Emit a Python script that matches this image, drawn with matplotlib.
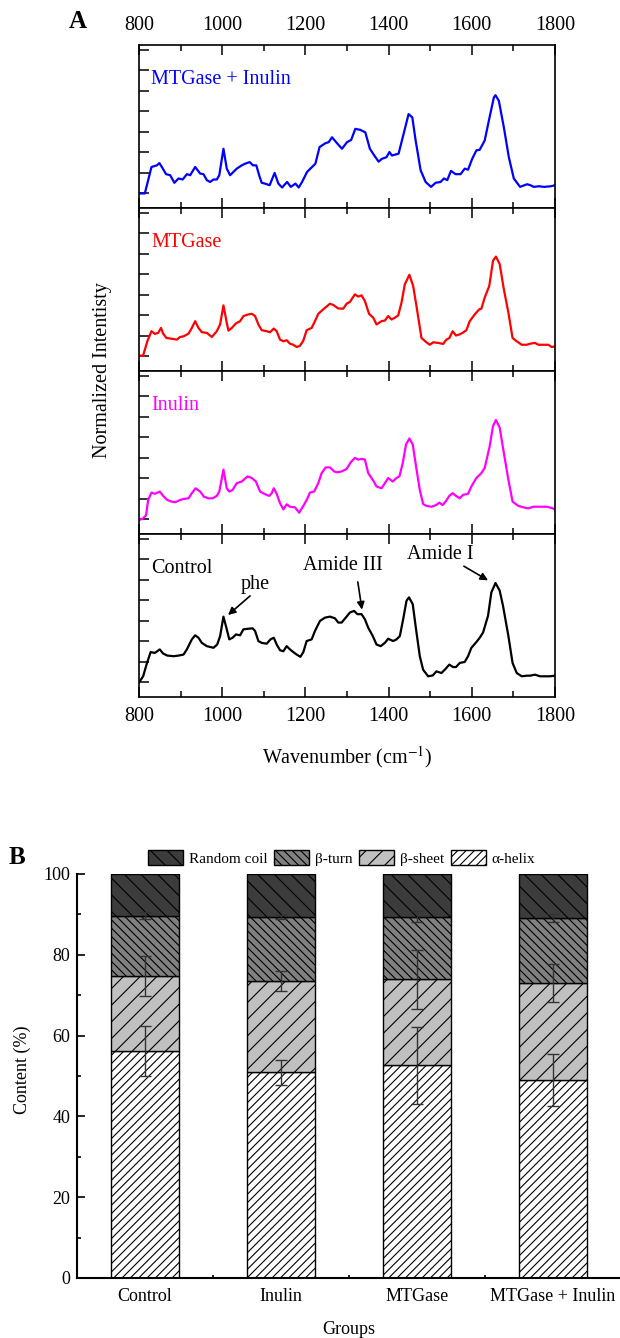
import matplotlib
matplotlib.use('Agg')
import numpy as np
import matplotlib.pyplot as plt
from matplotlib.patches import Patch
from matplotlib.ticker import MultipleLocator, FixedLocator, NullFormatter

plt.rcParams['font.family'] = ['Liberation Serif', 'DejaVu Serif']
plt.rcParams['mathtext.fontset'] = 'stix'
plt.rcParams['hatch.linewidth'] = 0.8

# ---------------- Panel A data (Raman spectra) ----------------
wn_blue = [800, 814, 830, 843, 849, 855, 865, 875, 885, 895, 905, 915, 923, 935, 947, 955, 963, 971, 979, 987,
           993, 1003, 1011, 1019, 1027, 1035, 1047, 1055, 1066, 1074, 1082, 1090, 1095, 1103, 1114, 1126, 1135,
           1144, 1156, 1165, 1176, 1184, 1192, 1204, 1216, 1224, 1234, 1248, 1256, 1264, 1276, 1288, 1300, 1310,
           1320, 1332, 1344, 1355, 1364, 1376, 1384, 1395, 1402, 1408, 1424, 1436, 1448, 1457, 1465, 1477, 1489,
           1502, 1513, 1525, 1533, 1541, 1550, 1561, 1573, 1583, 1591, 1601, 1611, 1619, 1631, 1641, 1653, 1657,
           1665, 1677, 1689, 1701, 1716, 1733, 1741, 1749, 1761, 1774, 1790, 1800]
int_blue = [0.00, 0.00, 1.29, 1.37, 1.48, 1.29, 0.94, 0.89, 0.52, 0.73, 0.68, 0.94, 0.89, 1.29, 0.97, 0.94, 0.65,
            0.56, 0.68, 0.68, 0.89, 2.18, 1.21, 0.89, 1.05, 1.21, 1.37, 1.45, 1.53, 1.37, 1.37, 0.81, 0.52, 0.48,
            0.40, 1.00, 0.48, 0.29, 0.56, 0.32, 0.48, 0.29, 0.56, 1.05, 1.29, 1.45, 2.26, 2.45, 2.50, 2.74, 2.45,
            2.18, 2.50, 2.61, 3.15, 3.10, 2.98, 2.18, 1.90, 1.55, 1.69, 1.77, 2.02, 1.85, 1.94, 2.90, 3.87, 3.71,
            2.58, 1.13, 0.56, 0.32, 0.52, 0.56, 0.73, 0.65, 1.10, 0.94, 0.94, 1.21, 1.16, 1.69, 2.10, 2.13, 2.58,
            3.55, 4.68, 4.79, 4.52, 3.23, 1.77, 0.73, 0.32, 0.45, 0.40, 0.32, 0.35, 0.32, 0.35, 0.40]

wn_red = [800, 810, 820, 830, 838, 846, 853, 858, 866, 883, 891, 899, 907, 919, 927, 935, 943, 951, 963, 975, 987,
          995, 1003, 1011, 1015, 1023, 1033, 1043, 1051, 1063, 1071, 1079, 1087, 1095, 1107, 1115, 1124, 1131, 1139,
          1147, 1155, 1163, 1171, 1179, 1187, 1195, 1203, 1215, 1223, 1231, 1243, 1259, 1267, 1279, 1291, 1299,
          1307, 1319, 1327, 1335, 1343, 1353, 1363, 1371, 1383, 1391, 1399, 1407, 1415, 1423, 1431, 1439, 1450,
          1459, 1467, 1479, 1491, 1499, 1507, 1519, 1531, 1539, 1546, 1554, 1562, 1570, 1578, 1587, 1595, 1607,
          1618, 1623, 1631, 1642, 1651, 1658, 1667, 1677, 1688, 1698, 1708, 1720, 1732, 1740, 1752, 1760, 1772,
          1784, 1792, 1800]
int_red = [0.03, 0.05, 0.74, 1.23, 1.10, 1.15, 1.39, 1.11, 0.90, 0.85, 0.82, 0.95, 0.98, 1.11, 1.39, 1.72, 1.39,
           1.18, 1.15, 0.95, 1.23, 1.56, 2.49, 1.64, 1.26, 1.39, 1.61, 1.72, 1.97, 2.05, 2.08, 1.97, 1.56, 1.28,
           1.23, 1.18, 1.36, 1.23, 0.82, 0.74, 0.79, 0.62, 0.57, 0.46, 0.52, 0.77, 1.28, 1.39, 1.72, 2.08, 2.30,
           2.57, 2.51, 2.34, 2.33, 2.57, 2.66, 3.03, 2.92, 2.98, 2.70, 2.08, 1.89, 1.56, 1.72, 1.75, 1.97, 1.80,
           1.89, 2.00, 2.62, 3.52, 3.98, 3.44, 2.46, 0.90, 0.69, 0.57, 0.69, 0.66, 0.61, 0.82, 0.90, 1.23, 1.02,
           1.07, 1.15, 1.28, 1.72, 2.05, 2.30, 2.33, 2.87, 3.44, 4.67, 4.87, 4.51, 3.28, 2.13, 0.90, 0.74, 0.57,
           0.57, 0.62, 0.66, 0.57, 0.57, 0.57, 0.46, 0.49]

wn_mag = [800, 810, 817, 822, 830, 838, 850, 858, 868, 878, 887, 899, 907, 919, 927, 936, 947, 956, 967, 977, 987,
          993, 1003, 1011, 1017, 1025, 1035, 1047, 1061, 1071, 1081, 1091, 1103, 1113, 1119, 1124, 1131, 1139, 1147,
          1155, 1163, 1175, 1185, 1195, 1203, 1211, 1221, 1231, 1239, 1249, 1259, 1269, 1277, 1287, 1299, 1309,
          1319, 1327, 1335, 1343, 1351, 1362, 1371, 1383, 1391, 1399, 1410, 1419, 1426, 1434, 1442, 1450, 1458,
          1466, 1475, 1483, 1491, 1503, 1514, 1522, 1530, 1538, 1546, 1554, 1562, 1571, 1579, 1591, 1599, 1611,
          1623, 1631, 1643, 1651, 1658, 1667, 1677, 1688, 1698, 1712, 1724, 1736, 1748, 1764, 1780, 1792, 1800]
int_mag = [-0.03, 0.05, 0.21, 0.95, 1.31, 1.25, 1.36, 1.15, 0.95, 0.87, 0.84, 0.95, 1.00, 1.03, 1.28, 1.52, 1.36,
           1.11, 1.03, 1.03, 1.15, 1.36, 2.43, 1.52, 1.36, 1.44, 1.77, 1.85, 2.10, 2.02, 1.85, 1.36, 1.23, 1.15,
           1.28, 1.52, 1.25, 0.79, 0.49, 0.74, 0.62, 0.59, 0.33, 0.66, 0.95, 1.31, 1.36, 1.77, 2.26, 2.54, 2.54,
           2.34, 2.30, 2.34, 2.46, 2.79, 3.00, 2.92, 2.95, 2.92, 2.26, 1.93, 1.61, 1.52, 1.77, 2.02, 1.85, 2.02,
           2.10, 2.75, 3.66, 3.95, 3.66, 2.59, 1.44, 0.75, 0.66, 0.62, 0.70, 0.82, 0.70, 0.90, 1.15, 1.28, 1.15,
           1.03, 1.20, 1.25, 1.61, 2.02, 2.26, 2.51, 3.57, 4.56, 4.85, 4.48, 3.25, 1.93, 0.87, 0.66, 0.59, 0.54,
           0.62, 0.62, 0.62, 0.56, 0.49]

wn_blk = [800, 810, 818, 828, 838, 850, 858, 868, 883, 895, 907, 915, 927, 935, 943, 951, 963, 979, 988, 995, 1003,
          1011, 1017, 1025, 1033, 1043, 1051, 1063, 1073, 1079, 1087, 1095, 1107, 1116, 1124, 1131, 1139, 1147,
          1155, 1163, 1171, 1179, 1188, 1195, 1203, 1215, 1223, 1235, 1247, 1259, 1271, 1279, 1287, 1297, 1307,
          1317, 1325, 1335, 1343, 1351, 1362, 1371, 1381, 1391, 1399, 1411, 1419, 1427, 1435, 1443, 1449, 1458,
          1466, 1475, 1483, 1495, 1506, 1515, 1527, 1535, 1546, 1555, 1562, 1571, 1583, 1591, 1599, 1611, 1619,
          1627, 1639, 1647, 1657, 1667, 1675, 1688, 1698, 1708, 1720, 1732, 1740, 1752, 1764, 1776, 1788, 1800]
int_blk = [0.00, 0.30, 0.87, 1.48, 1.44, 1.61, 1.41, 1.31, 1.28, 1.31, 1.36, 1.61, 2.10, 2.30, 2.18, 1.93, 1.77,
           1.69, 1.85, 2.26, 3.21, 2.59, 2.10, 2.18, 2.34, 2.30, 2.59, 2.62, 2.64, 2.51, 2.02, 1.93, 1.89, 2.10,
           2.18, 1.85, 1.57, 1.52, 1.77, 1.61, 1.48, 1.36, 1.25, 1.48, 2.02, 2.10, 2.51, 3.00, 3.16, 3.21, 3.13,
           2.92, 2.92, 3.16, 3.41, 3.49, 3.33, 3.33, 3.08, 2.67, 2.26, 1.85, 1.77, 1.93, 2.13, 2.02, 2.10, 2.26,
           3.08, 3.98, 4.15, 3.82, 2.59, 1.28, 0.62, 0.30, 0.34, 0.54, 0.46, 0.62, 0.87, 0.75, 0.75, 0.95, 1.00,
           1.28, 1.69, 1.97, 2.18, 2.43, 3.25, 4.39, 4.85, 4.48, 3.74, 2.26, 0.95, 0.46, 0.30, 0.33, 0.33, 0.38,
           0.30, 0.30, 0.30, 0.33]

spec_names = ['MTGase + Inulin', 'MTGase', 'Inulin', 'Control']
spec_colors = ['#0000ff', '#ff0000', '#ff00ff', '#000000']
spec_wn = [wn_blue, wn_red, wn_mag, wn_blk]
spec_int = [int_blue, int_red, int_mag, int_blk]
x_ticks_A = [800, 1000, 1200, 1400, 1600, 1800]

# peak annotations on the Control spectrum: (text, text position, arrow tail, arrow head)
ann_text = ['phe', 'Amide III', 'Amide I']
ann_text_pos = [(1079, 4.76), (1290, 5.70), (1524, 6.24)]
ann_tail = [(1067, 4.22), (1326, 4.90), (1581, 5.67)]
ann_head = [(1014, 3.29), (1336, 3.55), (1639, 4.98)]

# ---------------- Panel B data (secondary structure) ----------------
groups = ['Control', 'Inulin', 'MTGase', 'MTGase + Inulin']
alpha_helix = [56.2, 50.9, 52.6, 49.0]
beta_sheet = [18.5, 22.6, 21.3, 24.0]
beta_turn = [15.0, 15.8, 15.5, 16.2]
random_coil = [10.3, 10.7, 10.6, 10.8]
err_alpha = [6.3, 3.1, 9.5, 6.4]
err_sheet = [4.9, 2.5, 7.3, 4.8]
err_turn = [0.9, 0.5, 1.4, 1.0]

W, H = 620, 1338
fig = plt.figure(figsize=(W / 100, H / 100), dpi=100)


def box(l, t, r, b):
    return [l / W, 1 - b / H, (r - l) / W, (b - t) / H]


FS_A = 14.5
top0, ph = 45, 163
axesA = []
for i in range(4):
    t = top0 + i * ph
    ax = fig.add_axes(box(139, t, 555, t + ph))
    ax.plot(spec_wn[i], spec_int[i], color=spec_colors[i], lw=1.6, solid_joinstyle='round')
    ax.set_xlim(800, 1800)
    ax.set_ylim(-0.71, 7.24)
    ax.xaxis.set_major_locator(FixedLocator(x_ticks_A))
    ax.xaxis.set_minor_locator(MultipleLocator(100))
    ax.yaxis.set_major_locator(MultipleLocator(1))
    ax.yaxis.set_major_formatter(NullFormatter())
    ax.tick_params(axis='x', which='major', direction='in', top=True, bottom=True, length=7, width=1.1,
                   labelsize=FS_A, pad=7, labeltop=(i == 0), labelbottom=(i == 3))
    ax.tick_params(axis='x', which='minor', direction='in', top=True, bottom=True, length=4, width=1.1)
    ax.tick_params(axis='y', which='major', direction='in', left=True, right=False, length=7, width=1.1)
    for s in ax.spines.values():
        s.set_linewidth(1.2)
    ax.text(830, 5.55, spec_names[i], color=spec_colors[i], fontsize=FS_A, ha='left', va='center')
    axesA.append(ax)

axc = axesA[3]
arrow_kw = dict(arrowstyle='-|>', color='black', lw=1.2, mutation_scale=11, shrinkA=0, shrinkB=0)
for txt, tp, tail, head in zip(ann_text, ann_text_pos, ann_tail, ann_head):
    axc.text(tp[0], tp[1], txt, fontsize=FS_A, ha='center', va='center')
    axc.annotate('', xy=head, xytext=tail, arrowprops=arrow_kw)

fig.text(103 / W, 1 - 370 / H, 'Normalized Intentisty', rotation=90, ha='center', va='center', fontsize=FS_A)
fig.text(347 / W, 1 - 757 / H, 'Wavenumber (cm$^{-1}$)', ha='center', va='center', fontsize=FS_A)
fig.text(78 / W, 1 - 21 / H, 'A', ha='center', va='center', fontsize=18, fontweight='bold')

# ---------------- Panel B ----------------
FS_B = 13
axb = fig.add_axes(box(77, 874, 621, 1278))
x = np.arange(len(groups))
layers = [alpha_helix, beta_sheet, beta_turn, random_coil]
faces = ['white', '#c0c0c0', '#808080', '#3c3c3c']
hatches = ['////', '//', '\\\\\\\\', '\\\\']
labels = ['α-helix', 'β-sheet', 'β-turn', 'Random coil']
bottom = np.zeros(len(groups))
tops = []
for vals, fc, h in zip(layers, faces, hatches):
    vals = np.asarray(vals)
    axb.bar(x, vals, width=0.5, bottom=bottom, color=fc, edgecolor='black', hatch=h, linewidth=1.0, zorder=2)
    bottom = bottom + vals
    tops.append(bottom.copy())
for top, err in zip(tops[:3], [err_alpha, err_sheet, err_turn]):
    axb.errorbar(x, top, yerr=err, fmt='none', ecolor='#333333', elinewidth=1.0, capsize=4, capthick=1.0,
                 zorder=4)
axb.set_xlim(-0.5, 3.5)
axb.set_ylim(0, 100)
axb.set_xticks(x)
axb.set_xticklabels(groups, fontsize=FS_B)
axb.xaxis.set_minor_locator(FixedLocator([0.5, 1.5, 2.5]))
axb.yaxis.set_major_locator(MultipleLocator(20))
axb.yaxis.set_minor_locator(MultipleLocator(10))
axb.tick_params(axis='x', which='major', direction='in', length=5, width=1.2, pad=7)
axb.tick_params(axis='x', which='minor', direction='in', length=2, width=1.2)
axb.tick_params(axis='y', which='major', direction='in', length=6, width=1.2, labelsize=FS_B, pad=5)
axb.tick_params(axis='y', which='minor', direction='in', length=3, width=1.2)
axb.spines['top'].set_visible(False)
axb.spines['right'].set_visible(False)
axb.spines['left'].set_linewidth(1.5)
axb.spines['bottom'].set_linewidth(1.5)

handles = [Patch(facecolor=faces[k], edgecolor='black', hatch=hatches[k], label=labels[k]) for k in [3, 2, 1, 0]]
fig.legend(handles=handles, loc='center', bbox_to_anchor=(341.5 / W, 1 - 858 / H), ncol=4, frameon=False,
           fontsize=11, handlelength=2.3, handleheight=1.1, handletextpad=0.35, columnspacing=0.45,
           borderpad=0, borderaxespad=0)

fig.text(22 / W, 1 - 1070 / H, 'Content (%)', rotation=90, ha='center', va='center', fontsize=FS_B)
fig.text(349 / W, 1 - 1330 / H, 'Groups', ha='center', va='center', fontsize=FS_B)
fig.text(17 / W, 1 - 857 / H, 'B', ha='center', va='center', fontsize=18, fontweight='bold')

fig.savefig('out.png', dpi=100)
